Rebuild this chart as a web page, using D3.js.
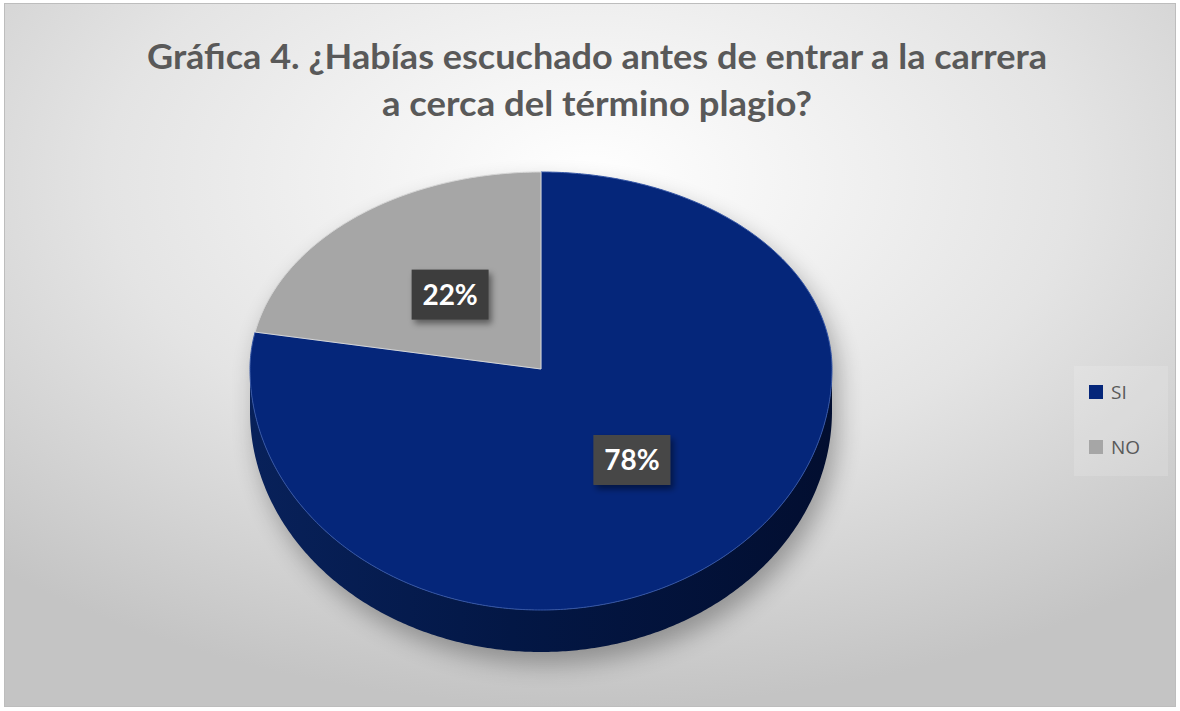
<!DOCTYPE html>
<html>
<head>
<meta charset="utf-8">
<script src="https://cdn.jsdelivr.net/npm/d3@7"></script>
<style>
  body { margin: 0; background: #fff; }
</style>
</head>
<body>
<svg id="chart"></svg>
<script>
// data
const categories = ['SI', 'NO'];
const values = [78, 22];
const colors = ['#05267a', '#a6a6a6'];
const sideColors = ['#031745', '#7f7f7f'];
const titleLines = ['Gráfica 4. ¿Habías escuchado antes de entrar a la carrera', 'a cerca del término plagio?'];

const W = 1180, H = 711;

const svg = d3.select('#chart').attr('width', W).attr('height', H);
const defs = svg.append('defs');

// background gradient
const bg = defs.append('radialGradient').attr('id', 'bg')
    .attr('cx', '50%').attr('cy', '25%').attr('r', '75%');
bg.append('stop').attr('offset', '0%').attr('stop-color', '#ffffff');
bg.append('stop').attr('offset', '55%').attr('stop-color', '#e4e4e4');
bg.append('stop').attr('offset', '100%').attr('stop-color', '#c4c4c4');

const blur = defs.append('filter').attr('id', 'blur')
    .attr('x', '-20%').attr('y', '-20%').attr('width', '140%').attr('height', '140%');
blur.append('feGaussianBlur').attr('stdDeviation', 12);

const drop = defs.append('filter').attr('id', 'drop')
    .attr('x', '-20%').attr('y', '-20%').attr('width', '150%').attr('height', '160%');
drop.append('feDropShadow').attr('dx', 3).attr('dy', 4).attr('stdDeviation', 3)
    .attr('flood-color', '#000').attr('flood-opacity', 0.45);

const sideGrad = defs.append('linearGradient').attr('id', 'side')
    .attr('x1', '0%').attr('x2', '100%').attr('y1', '0%').attr('y2', '0%');
sideGrad.append('stop').attr('offset', '0%').attr('stop-color', '#08215a');
sideGrad.append('stop').attr('offset', '45%').attr('stop-color', sideColors[0]);
sideGrad.append('stop').attr('offset', '100%').attr('stop-color', '#020e30');

svg.append('rect')
    .attr('x', 4.5).attr('y', 3.5).attr('width', W - 9).attr('height', H - 8)
    .attr('fill', 'url(#bg)').attr('stroke', '#bdbdbd');

// title
svg.selectAll('.title').data(titleLines).enter()
    .append('text')
    .attr('class', 'title')
    .attr('x', 597)
    .attr('y', (d, i) => 69 + i * 47)
    .attr('text-anchor', 'middle')
    .attr('font-family', 'Lato, "Open Sans", sans-serif')
    .attr('font-weight', 'bold')
    .attr('font-size', 35)
    .attr('fill', '#595959')
    .attr('textLength', (d, i) => i === 0 ? 900 : 430)
    .attr('lengthAdjust', 'spacingAndGlyphs')
    .text(d => d);

// 3d pie: top face projected with a nearer (larger) front half
const cx = 541, cy = 369, rx = 291, ryTop = 197, ryBot = 241, depth = 42;

function proj(a, f = 1, dz = 0) {
    const c = Math.cos(a);
    const ry = c > 0 ? ryTop : ryBot;
    return [cx + rx * f * Math.sin(a), cy - ry * f * c + dz];
}

function arcPts(a0, a1, dz = 0) {
    const n = Math.max(2, Math.ceil((a1 - a0) / 0.01));
    return d3.range(n + 1).map(i => proj(a0 + (a1 - a0) * i / n, 1, dz));
}

const pie = d3.pie().sort(null).value(d => d)(values);
const line = d3.line();

const pieG = svg.append('g');

// shadow under the pie
const outline = arcPts(Math.PI / 2, Math.PI * 1.5, depth + 8)
    .concat(arcPts(Math.PI * 1.5, Math.PI * 2.5, 8));
pieG.append('path')
    .attr('d', line(outline) + 'Z')
    .attr('transform', 'translate(6,4)')
    .attr('fill', '#000').attr('opacity', 0.3)
    .attr('filter', 'url(#blur)');

// sides (front half only)
pie.forEach((s, i) => {
    const a0 = Math.max(s.startAngle, Math.PI / 2);
    const a1 = Math.min(s.endAngle, Math.PI * 1.5);
    if (a1 <= a0) return;
    const pts = arcPts(a0, a1).concat(arcPts(a0, a1, depth).reverse());
    pieG.append('path')
        .attr('d', line(pts) + 'Z')
        .attr('fill', i === 0 ? 'url(#side)' : sideColors[i]);
});

// top faces
pie.forEach((s, i) => {
    const pts = [[cx, cy]].concat(arcPts(s.startAngle, s.endAngle));
    pieG.append('path')
        .attr('d', line(pts) + 'Z')
        .attr('fill', colors[i])
        .attr('stroke', i === 0 ? '#3556a6' : '#d6d6d6')
        .attr('stroke-width', 1)
        .attr('stroke-linejoin', 'round');
});

// data labels
const labels = svg.selectAll('.lbl').data(pie).enter()
    .append('g')
    .attr('class', 'lbl')
    .attr('transform', d => {
        const p = proj((d.startAngle + d.endAngle) / 2, 0.49);
        return `translate(${p[0]},${p[1]})`;
    });

labels.append('rect')
    .attr('x', -38.5).attr('y', -25).attr('width', 77).attr('height', 50)
    .attr('fill', (d, i) => i === 0 ? '#474747' : '#3d3d3d')
    .attr('filter', 'url(#drop)');

labels.append('text')
    .attr('text-anchor', 'middle')
    .attr('dy', '0.36em')
    .attr('font-family', 'Lato, "Open Sans", sans-serif')
    .attr('font-weight', 'bold')
    .attr('font-size', 28)
    .attr('fill', '#ffffff')
    .text(d => d.data + '%');

// legend
svg.append('rect')
    .attr('x', 1074).attr('y', 366).attr('width', 94).attr('height', 110)
    .attr('fill', '#ffffff').attr('opacity', 0.14);

const legend = svg.selectAll('.leg').data(categories).enter()
    .append('g')
    .attr('class', 'leg')
    .attr('transform', (d, i) => `translate(1089, ${385 + i * 55})`);

legend.append('rect')
    .attr('width', 14).attr('height', 14)
    .attr('fill', (d, i) => colors[i]);

legend.append('text')
    .attr('x', 22).attr('y', 7).attr('dy', '0.36em')
    .attr('font-family', '"Open Sans", sans-serif')
    .attr('font-size', 19)
    .attr('fill', '#595959')
    .text(d => d);
</script>
</body>
</html>
